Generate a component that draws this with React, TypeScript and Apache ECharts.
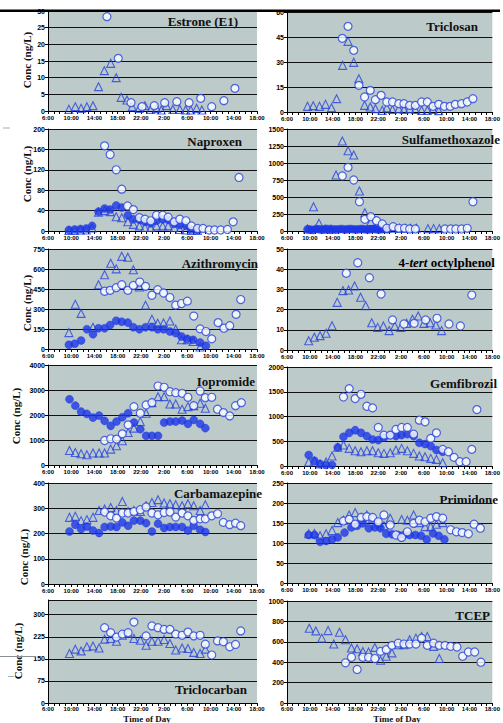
import React, { useEffect, useRef } from 'react';
import * as echarts from 'echarts';

type Pt = [number, number];

// Time is expressed in hours after 6:00 on the first sampling day (0 = 6:00, 36 = 18:00 next day).

// Estrone (E1)
const estroneTri: Pt[] = [[3.6,0.5],[4.7,1.3],[5.7,0.8],[6.7,1.3],[7.75,1.6],[8.7,7.3],[9.7,12.1],[10.8,14.3],[11.75,10],[12.6,4.1],[13.6,3.3],[14.5,1.3],[15.7,0.8],[16.7,1.6],[17.7,0.5],[18.7,0.8],[19.5,0.3],[20.4,1.6],[21.5,0.5],[22.7,0.5],[23.7,0.3],[24.6,0.3],[25.6,0.8],[26.5,0.3]];
const estroneOpen: Pt[] = [[10.15,28.3],[12.1,15.8],[14.3,2.5],[16.2,1.3],[18.3,1.6],[20.1,2.5],[22.2,2.8],[24.3,2.5],[26.3,3.8],[28.2,1.3],[30.3,3.1],[32.2,6.8]];

// Triclosan
const triclosanTri: Pt[] = [[3.6,3.4],[4.6,3.8],[5.7,3.4],[6.75,4.6],[7.8,2.6],[8.7,8],[9.75,28],[10.7,42.4],[11.7,29.8],[12.6,20],[13.6,4],[14.6,3],[15.5,2],[16.7,1],[17.5,2.5],[18.5,1.5],[19.6,2],[20.5,1.5],[21.5,2],[22.5,1.5],[23.6,1],[24.6,1],[25.6,1.5],[26.6,0.8]];
const triclosanOpen: Pt[] = [[9.7,44.2],[10.7,51.4],[11.7,37],[12.6,16],[13.6,9],[14.6,13],[15.5,7.4],[16.5,10],[17.5,6],[18.5,6],[19.6,5],[20.5,5],[21.5,4],[22.5,4],[23.6,6],[24.6,6],[25.6,3.4],[26.6,4.6],[27.6,3.4],[28.6,3.4],[29.5,4.6],[30.6,5],[31.6,6],[32.6,8]];

// Naproxen
const naproxenTri: Pt[] = [[3.6,1],[4.6,1],[5.6,2],[6.6,2],[7.6,6],[8.7,37],[9.75,40],[10.7,38],[11.75,28],[12.7,26],[13.75,18],[14.7,13],[15.75,10],[16.7,7],[17.7,7],[18.7,10],[19.75,10],[20.7,10],[21.75,7],[22.7,3],[23.75,2],[24.7,1],[25.75,1]];
const naproxenOpen: Pt[] = [[9.75,167],[10.7,150],[11.75,120],[12.7,82],[13.7,49],[14.7,42],[15.75,26],[16.7,23],[17.7,20],[18.7,31],[19.75,31],[20.7,27],[21.75,18],[22.7,23],[23.75,20],[24.7,10],[25.75,5],[26.7,5],[27.75,2],[28.7,2],[29.75,2],[30.9,3],[31.9,18],[32.9,105]];
const naproxenFilled: Pt[] = [[3.6,2],[4.6,3],[5.6,4],[6.6,5],[7.6,10],[8.7,38],[9.75,44],[10.7,42],[11.75,50],[12.7,46],[13.75,31],[14.7,23],[15.75,22],[16.7,18],[17.7,15],[18.7,20],[19.75,23],[20.7,22],[21.75,14],[22.7,12],[23.75,10],[24.7,3],[25.75,2]];

// Sulfamethoxazole
const sulfaTri: Pt[] = [[3.6,30],[4.65,357],[5.6,113],[6.7,30],[7.7,30],[8.6,823],[9.7,1324],[10.7,1181],[11.7,1118],[12.7,588],[13.65,270],[14.7,137],[15.7,74],[16.7,74],[17.5,40],[18.7,40],[19.7,40],[20.7,40],[21.7,40],[22.7,40],[24.7,35],[25.7,35],[26.7,35]];
const sulfaOpen: Pt[] = [[9.7,809],[10.7,936],[11.7,750],[12.7,431],[13.65,172],[14.7,210],[15.7,151],[16.7,103],[17.5,40],[18.6,63],[19.6,40],[20.6,40],[21.5,30],[22.5,30],[27.7,30],[28.7,30],[29.6,30],[30.6,30],[31.6,40],[32.6,431]];
const sulfaFilled: Pt[] = [[3.6,25],[4.1,20],[4.6,15],[5.1,30],[5.6,25],[6.1,20],[6.6,25],[7.1,30],[7.6,20],[8.1,25],[8.6,20],[9.1,25],[9.6,30],[10.1,20],[10.6,25],[11.1,30],[11.6,25],[12.1,20],[12.6,25],[13.1,30],[13.6,25],[14.1,20],[14.6,25],[15.1,30],[15.6,25],[16.1,20],[16.6,25],[17.1,30],[17.6,25]];

// Azithromycin
const azithroTri: Pt[] = [[3.6,123],[4.7,336],[5.7,267],[7.75,163],[8.7,482],[9.75,557],[10.8,643],[11.75,601],[12.7,695],[13.75,688],[14.7,594],[15.75,465],[16.8,329],[17.9,223],[18.9,193],[19.9,195],[21,210],[22,148],[23,69],[24,69],[25,56],[26.2,15]];
const azithroOpen: Pt[] = [[9.75,433],[10.7,440],[11.75,460],[12.7,482],[13.75,440],[14.7,477],[15.8,502],[16.8,470],[17.9,403],[18.9,445],[19.9,420],[21,386],[22,329],[23,341],[24,359],[25.1,247],[26.2,151],[27.2,131],[28.2,76],[29.3,198],[30.3,156],[31.3,175],[32.4,260],[33.2,371]];
const azithroFilled: Pt[] = [[3.6,32],[4.6,39],[5.7,64],[6.7,148],[7.75,111],[8.7,156],[9.75,156],[10.7,180],[11.75,212],[12.7,205],[13.75,198],[14.7,163],[15.75,148],[16.8,163],[17.9,163],[18.9,148],[19.9,148],[21,131],[22,119],[23,94],[24,76],[25,69],[26.2,49],[27.2,25]];

// 4-tert octylphenol
const octylTri: Pt[] = [[3.8,4.6],[4.8,6.3],[5.8,7.1],[6.85,8.3],[7.9,12],[8.8,23.6],[9.8,29.4],[10.8,29.7],[11.85,31.7],[12.9,26.1],[13.8,21.9],[14.85,13.5],[15.9,11.2],[16.9,11.9],[17.9,9.6],[18.9,11.9],[19.95,11.2],[20.97,13.2],[22,15.2],[23,16.8],[24,13.2],[25.1,13.5],[26.1,12.4],[27.1,9.6]];
const octylOpen: Pt[] = [[10.4,38],[12.4,43.2],[14.45,35.8],[16.5,27.7],[18.5,14.9],[20.5,12.9],[22.3,13.2],[24.3,14.9],[26.3,15.7],[28.4,12.9],[30.4,11.9],[32.4,27.2]];

// Iopromide
const iopromideTri: Pt[] = [[3.7,582],[4.7,502],[5.7,450],[6.7,410],[7.75,478],[8.8,478],[9.75,478],[10.8,637],[11.8,769],[12.8,968],[13.8,1299],[14.8,1474],[15.9,1737],[16.9,2072],[17.9,2494],[18.95,2733],[20,2733],[21,2442],[22,2442],[23.1,2231],[24.1,2335],[25.1,2374],[26.2,2470],[27.1,2271]];
const iopromideOpen: Pt[] = [[9.75,980],[10.8,1048],[11.8,1036],[12.8,1247],[13.8,1606],[14.8,2335],[15.9,2072],[16.9,2402],[17.9,2494],[18.95,3159],[20,3108],[21,2932],[22,2892],[23.1,2869],[24.1,2709],[25.1,2374],[26.2,2960],[27.1,2693],[28.2,2709],[29.2,2231],[30.2,2096],[31.3,1964],[32.3,2374],[33.3,2494]];
const iopromideFilled: Pt[] = [[3.7,2629],[4.7,2374],[5.7,2135],[6.7,2044],[7.75,1896],[8.8,1976],[9.75,1765],[10.8,1566],[11.8,1737],[12.8,1912],[13.8,2072],[14.8,1697],[15.9,1434],[16.9,1167],[17.9,1167],[18.95,1167],[20,1697],[21,1737],[22,1737],[23.1,1777],[24.1,1645],[25.1,1805],[26.2,1645],[27.1,1474]];

// Gemfibrozil
const gemfiTri: Pt[] = [[3.8,80],[4.8,100],[5.8,40],[6.85,80],[7.9,201],[8.9,380],[9.9,423],[10.9,356],[11.95,308],[12.97,288],[14,308],[15,308],[16,268],[17,255],[18.1,268],[19.1,322],[20.1,356],[21.1,308],[22.2,255],[23.2,201],[24.2,187],[25.2,154],[26.2,134],[27.3,67]];
const gemfiOpen: Pt[] = [[9.9,1395],[10.9,1563],[11.95,1362],[12.97,1449],[14,1207],[15,1174],[16,779],[17,624],[18.1,624],[19.1,738],[20.1,779],[21.1,779],[22.2,644],[23.2,926],[24.2,892],[25.2,557],[26.2,670],[27.3,336],[28.3,288],[29.3,174],[30.3,87],[31.4,87],[32.4,336],[33.3,1140]];
const gemfiFilled: Pt[] = [[3.8,221],[4.8,107],[5.8,40],[6.85,20],[7.9,20],[8.9,376],[9.9,590],[10.9,670],[11.95,724],[12.97,670],[14,604],[15,537],[16,523],[17,577],[18.1,624],[19.1,604],[20.1,624],[21.1,644],[22.2,604],[23.2,469],[24.2,443],[25.2,402],[26.2,322],[27.3,288]];

// Carbamazepine
const carbaTri: Pt[] = [[3.7,264],[4.7,268],[5.7,251],[6.7,255],[7.75,264],[8.8,291],[9.75,297],[10.8,303],[11.8,291],[12.8,327],[13.8,287],[14.8,291],[15.9,287],[16.9,310],[17.9,323],[18.95,334],[20,321],[21,318],[22,314],[23.1,310],[24.1,318],[25.1,310],[26.2,291],[27.1,314]];
const carbaOpen: Pt[] = [[9.75,285],[10.8,270],[11.8,261],[12.8,281],[13.8,281],[14.8,287],[15.9,294],[16.9,305],[17.9,281],[18.95,274],[20,283],[21,285],[22,265],[23.1,281],[24.1,270],[25.1,252],[26.2,258],[27.1,258],[28.2,270],[29.2,278],[30.2,244],[31.3,235],[32.3,241],[33.2,231]];
const carbaFilled: Pt[] = [[3.7,208],[4.7,235],[5.7,218],[6.7,228],[7.75,212],[8.8,202],[9.75,226],[10.8,228],[11.8,226],[12.8,244],[13.8,231],[14.8,251],[15.9,251],[16.9,241],[17.9,208],[18.95,239],[20,222],[21,226],[22,226],[23.1,226],[24.1,212],[25.1,231],[26.2,215],[27.1,206]];

// Primidone
const primiTri: Pt[] = [[3.8,123],[4.8,124],[5.8,118],[6.85,123],[7.9,131],[8.9,151],[9.9,157],[10.9,170],[11.95,176],[13,164],[14,170],[15,162],[16,151],[17,143],[18.1,162],[20.1,159],[21.1,157],[22.2,170],[23.2,151],[24.2,141],[25.2,141],[26.2,147],[27.3,151]];
const primiOpen: Pt[] = [[9.9,155],[10.9,159],[11.95,147],[13,164],[14,166],[15,164],[16,153],[17,170],[18.1,145],[19.1,120],[20.1,114],[21.1,128],[22.2,149],[23.2,157],[24.2,153],[25.2,162],[26.2,166],[27.3,162],[28.7,133],[29.7,128],[30.7,126],[31.8,123],[32.8,147],[33.9,137]];
const primiFilled: Pt[] = [[3.8,120],[4.8,120],[5.8,103],[6.85,105],[7.9,109],[8.9,114],[10.1,126],[11.3,139],[12.3,143],[13.3,149],[14.35,137],[15.4,139],[16.4,137],[17.4,123],[18.4,122],[19.5,120],[20.5,120],[21.5,120],[22.5,120],[23.5,118],[24.5,109],[25.6,124],[26.6,118],[27.6,109]];

// Triclocarban
const tccTri: Pt[] = [[3.7,168],[4.7,183],[5.7,177],[6.7,191],[7.75,194],[8.8,187],[9.75,217],[10.8,219],[11.8,210],[12.8,230],[13.8,236],[14.8,219],[15.9,213],[16.9,196],[17.9,210],[18.95,210],[20,216],[21,202],[22,180],[23.1,187],[24.1,185],[25.1,172],[26.2,168],[27.1,183]];
const tccOpen: Pt[] = [[9.75,256],[10.8,239],[11.8,224],[12.8,234],[13.8,239],[14.8,275],[16.9,228],[17.9,262],[18.95,256],[20,250],[21,250],[22,234],[23.1,230],[24.1,241],[25.1,228],[26.2,230],[27.1,200],[28.2,163],[29.2,211],[30.2,208],[31.3,191],[32.3,199],[33.2,245]];

// TCEP
const tcepTri: Pt[] = [[3.9,733],[5.05,707],[6.1,636],[7.2,710],[8.2,578],[9.2,694],[10.25,620],[11.3,539],[12.3,532],[13.3,506],[14.3,500],[15.4,545],[16.4,419],[17.4,458],[18.4,491],[19.5,571],[20.5,571],[21.5,620],[22.6,636],[23.6,652],[24.6,652],[25.7,555],[26.7,436]];
const tcepOpen: Pt[] = [[10.25,394],[11.3,448],[12.3,329],[13.3,448],[14.3,448],[15.4,436],[16.4,506],[17.4,523],[18.4,565],[19.5,587],[20.5,578],[21.5,578],[22.6,578],[23.6,636],[24.6,565],[25.7,587],[26.7,565],[27.7,565],[28.7,555],[29.8,549],[30.8,458],[31.8,500],[32.9,500],[34,400]];

const SANS = 'Liberation Sans, Arial, sans-serif';
const SERIF = 'Liberation Serif, Times New Roman, serif';
const PLOT_BG = '#bdcaca';
const STROKE = '#2743dc';
const FILL = '#1c36e6';

type Panel = {
  title: string;
  col: 0 | 1;
  top: number;
  bottom: number;
  max: number;
  interval: number;
  hideMax?: boolean;
  tri?: Pt[];
  open?: Pt[];
  filled?: Pt[];
  titleX: number;
  titleY: number;
};

const panels: Panel[] = [
  { title: 'Estrone (E1)', col: 0, top: 11, bottom: 111, max: 30, interval: 5, tri: estroneTri, open: estroneOpen, titleX: 238, titleY: 21 },
  { title: 'Triclosan', col: 1, top: 12, bottom: 112, max: 60, interval: 15, tri: triclosanTri, open: triclosanOpen, titleX: 478, titleY: 26 },
  { title: 'Naproxen', col: 0, top: 129, bottom: 231, max: 200, interval: 40, tri: naproxenTri, filled: naproxenFilled, open: naproxenOpen, titleX: 242, titleY: 141 },
  { title: 'Sulfamethoxazole', col: 1, top: 129, bottom: 231, max: 1500, interval: 250, tri: sulfaTri, filled: sulfaFilled, open: sulfaOpen, titleX: 500, titleY: 139 },
  { title: 'Azithromycin', col: 0, top: 249, bottom: 349, max: 750, interval: 150, tri: azithroTri, filled: azithroFilled, open: azithroOpen, titleX: 258, titleY: 263 },
  { title: 'OCTYL', col: 1, top: 249, bottom: 350, max: 50, interval: 10, tri: octylTri, open: octylOpen, titleX: 495, titleY: 262 },
  { title: 'Iopromide', col: 0, top: 365, bottom: 465, max: 4000, interval: 1000, tri: iopromideTri, filled: iopromideFilled, open: iopromideOpen, titleX: 255, titleY: 381 },
  { title: 'Gemfibrozil', col: 1, top: 367, bottom: 466, max: 2000, interval: 500, tri: gemfiTri, filled: gemfiFilled, open: gemfiOpen, titleX: 497, titleY: 383 },
  { title: 'Carbamazepine', col: 0, top: 483, bottom: 584, max: 400, interval: 100, tri: carbaTri, filled: carbaFilled, open: carbaOpen, titleX: 262, titleY: 493 },
  { title: 'Primidone', col: 1, top: 483, bottom: 583, max: 250, interval: 50, tri: primiTri, filled: primiFilled, open: primiOpen, titleX: 498, titleY: 499 },
  { title: 'Triclocarban', col: 0, top: 600, bottom: 703, max: 350, interval: 75, hideMax: true, tri: tccTri, open: tccOpen, titleX: 247, titleY: 689 },
  { title: 'TCEP', col: 1, top: 601, bottom: 703, max: 1000, interval: 200, tri: tcepTri, open: tcepOpen, titleX: 490, titleY: 615 },
];

// Centres of the rotated y-axis names on the left column
const yNamePos: [number, number][] = [[27, 60], [27, 174], [27, 303], [16, 416], [24, 557], [18, 651]];

const clock = (v: number) => `${(v + 6) % 24}:00`;

function buildOption() {
  const grid = panels.map((p) => ({
    left: p.col === 0 ? 48 : 287,
    width: p.col === 0 ? 209 : 212,
    top: p.top,
    height: p.bottom - p.top,
    show: true,
    backgroundColor: PLOT_BG,
    borderWidth: 0,
    containLabel: false,
  }));

  const xAxis = panels.map((_, i) => ({
    type: 'value',
    gridIndex: i,
    min: 0,
    max: 36,
    interval: 4,
    axisLine: { show: true, onZero: false, lineStyle: { color: '#000', width: 1 } },
    axisTick: { show: true, inside: false, length: 3, lineStyle: { color: '#000', width: 1 } },
    minorTick: { show: true, splitNumber: 4, length: 3, lineStyle: { color: '#000', width: 1 } },
    splitLine: { show: false },
    minorSplitLine: { show: false },
    axisLabel: { fontSize: 6, fontWeight: 'bold', color: '#000', margin: i >= 10 ? 3 : 4, fontFamily: SANS, formatter: clock },
  }));

  const yAxis = panels.map((p, i) => ({
    type: 'value',
    gridIndex: i,
    min: 0,
    max: p.max,
    interval: p.interval,
    axisLine: { show: true, onZero: false, lineStyle: { color: '#000', width: 1 } },
    axisTick: { show: true, inside: false, length: 3, lineStyle: { color: '#000', width: 1 } },
    splitLine: { show: true, lineStyle: { color: '#111', width: 1 } },
    axisLabel: {
      fontSize: 7,
      fontWeight: 'bold',
      color: '#000',
      margin: 3,
      fontFamily: SANS,
      showMaxLabel: !p.hideMax,
      formatter: (v: number) => String(v),
    },
  }));

  const series: any[] = [];
  panels.forEach((p, i) => {
    if (p.tri) {
      series.push({
        type: 'scatter', xAxisIndex: i, yAxisIndex: i, data: p.tri, symbol: 'triangle', symbolSize: 8, z: 2, silent: true,
        itemStyle: { color: 'rgba(0,0,0,0)', borderColor: STROKE, borderWidth: 1.1 },
      });
    }
    if (p.filled) {
      series.push({
        type: 'scatter', xAxisIndex: i, yAxisIndex: i, data: p.filled, symbol: 'circle', symbolSize: 8, z: 3, silent: true,
        itemStyle: { color: FILL, borderColor: FILL, borderWidth: 0.5 },
      });
    }
    if (p.open) {
      series.push({
        type: 'scatter', xAxisIndex: i, yAxisIndex: i, data: p.open, symbol: 'circle', symbolSize: 8, z: 4, silent: true,
        itemStyle: { color: '#ffffff', borderColor: STROKE, borderWidth: 1.2 },
      });
    }
  });

  const titleFont = { fontFamily: SERIF, fontSize: 13, fontWeight: 'bold', fill: '#111' };
  const graphic: any[] = [];

  panels.forEach((p) => {
    if (p.title === 'OCTYL') {
      graphic.push({
        type: 'text', x: p.titleX, y: p.titleY, z: 100,
        style: {
          text: '{a|4-}{b|tert}{a| octylphenol}',
          align: 'right', verticalAlign: 'middle',
          rich: {
            a: { fontFamily: SERIF, fontSize: 13, fontWeight: 'bold', color: '#111' },
            b: { fontFamily: SERIF, fontSize: 13, fontWeight: 'bold', fontStyle: 'italic', color: '#111' },
          },
        },
      });
    } else {
      graphic.push({
        type: 'text', x: p.titleX, y: p.titleY, z: 100,
        style: { text: p.title, align: 'right', verticalAlign: 'middle', ...titleFont },
      });
    }
  });

  yNamePos.forEach(([x, y]) => {
    graphic.push({
      type: 'text', x, y, rotation: Math.PI / 2, z: 100,
      style: { text: 'Conc (ng/L)', align: 'center', verticalAlign: 'middle', fontFamily: SERIF, fontSize: 11, fontWeight: 'bold', fill: '#111' },
    });
  });

  [147, 397].forEach((x) => {
    graphic.push({
      type: 'text', x, y: 723, z: 100,
      style: { text: 'Time of Day', align: 'center', verticalAlign: 'bottom', fontFamily: SERIF, fontSize: 9, fontWeight: 'bold', fill: '#111' },
    });
  });

  // heavy rule across the top of the page
  graphic.push({ type: 'rect', z: 100, shape: { x: 0, y: 9.5, width: 500, height: 2.5 }, style: { fill: '#000' } });
  // faint marks in the left margin
  graphic.push({ type: 'line', z: 100, shape: { x1: 3, y1: 128, x2: 10, y2: 128 }, style: { stroke: '#9fb0c4', lineWidth: 1 } });
  graphic.push({ type: 'line', z: 100, shape: { x1: 0, y1: 656.5, x2: 36, y2: 656.5 }, style: { stroke: '#8a8f96', lineWidth: 1 } });
  graphic.push({ type: 'line', z: 100, shape: { x1: 8, y1: 676.5, x2: 14, y2: 676.5 }, style: { stroke: '#9fb0c4', lineWidth: 1 } });

  return { animation: false, backgroundColor: '#ffffff', grid, xAxis, yAxis, series, graphic };
}

export default function App() {
  const ref = useRef<HTMLDivElement>(null);
  useEffect(() => {
    if (!ref.current) return;
    const chart = echarts.init(ref.current, undefined, { renderer: 'svg' });
    chart.setOption(buildOption() as any);
    return () => chart.dispose();
  }, []);
  return (
    <div
      ref={ref}
      style={{ position: 'fixed', left: 0, top: 0, width: 503, height: 723, background: '#fff' }}
    />
  );
}
